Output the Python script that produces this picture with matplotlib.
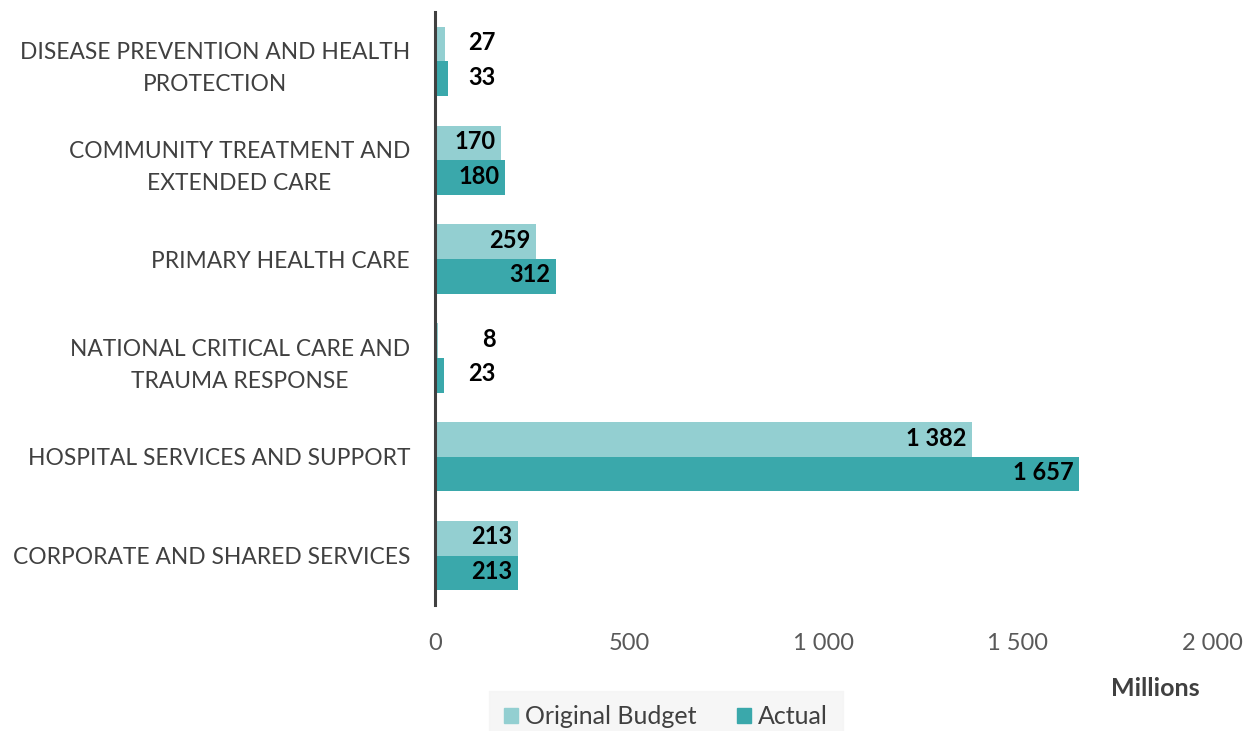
import numpy as np
import matplotlib.pyplot as plt
from matplotlib.patches import Patch

# data
categories = ["DISEASE PREVENTION AND HEALTH\nPROTECTION",
              "COMMUNITY TREATMENT AND\nEXTENDED CARE",
              "PRIMARY HEALTH CARE",
              "NATIONAL CRITICAL CARE AND\nTRAUMA RESPONSE",
              "HOSPITAL SERVICES AND SUPPORT",
              "CORPORATE AND SHARED SERVICES"]
budget = [27, 170, 259, 8, 1382, 213]
actual = [33, 180, 312, 23, 1657, 213]
xticks = [0, 500, 1000, 1500, 2000]

c_budget = "#93cfd1"
c_actual = "#3aa8ab"

plt.rcParams['font.family'] = ['Lato', 'DejaVu Sans']

def fmt(v):
    return "{:,}".format(v).replace(",", " ")

fig = plt.figure(figsize=(12.56, 7.31), dpi=100)
ax = fig.add_axes([435/1256, 1 - 605/731, (1212-435)/1256, (605-12)/731])

y = np.arange(len(categories))
h = 0.35
ax.barh(y - h/2, budget, height=h, color=c_budget)
ax.barh(y + h/2, actual, height=h, color=c_actual)

# labels at the inside end, pushed out for short bars
for yy, vals in [(y - h/2, budget), (y + h/2, actual)]:
    for yi, v in zip(yy, vals):
        ax.annotate(fmt(v), (max(v, 170), yi), xytext=(-4, 1), textcoords="offset points",
                    ha="right", va="center", fontsize=17, fontweight="bold", color="black")

ax.set_ylim(len(categories) - 0.5, -0.5)
ax.set_xlim(0, 2000)
ax.set_yticks(y)
ax.set_yticklabels(categories, fontsize=16.4, color="#404040", linespacing=1.65,
                   ha="right", multialignment="center")
ax.set_xticks(xticks)
ax.set_xticklabels([fmt(t) for t in xticks], fontsize=17, color="#595959")
ax.tick_params(axis="both", length=0)
ax.tick_params(axis="x", pad=20)
ax.tick_params(axis="y", pad=18)
for s in ["top", "right", "bottom"]:
    ax.spines[s].set_visible(False)
ax.spines["left"].set_color("#404040")
ax.spines["left"].set_linewidth(2.2)

fig.text(1155/1256, 1 - 689/731, "Millions", fontsize=18, fontweight="bold",
         color="#404040", ha="center", va="center")

handles = [Patch(color=c_budget, label="Original Budget"), Patch(color=c_actual, label="Actual")]
leg = fig.legend(handles=handles, loc="center", bbox_to_anchor=(666/1256, 1 - 717/731),
                 ncol=2, frameon=True, fontsize=18, handlelength=0.55, handleheight=0.55,
                 handletextpad=0.3, columnspacing=1.6, borderpad=0.6, fancybox=False)
leg.get_frame().set_facecolor("#f4f4f4")
leg.get_frame().set_edgecolor("#f4f4f4")
for t in leg.get_texts():
    t.set_color("#404040")

fig.savefig("out.png", dpi=100)
